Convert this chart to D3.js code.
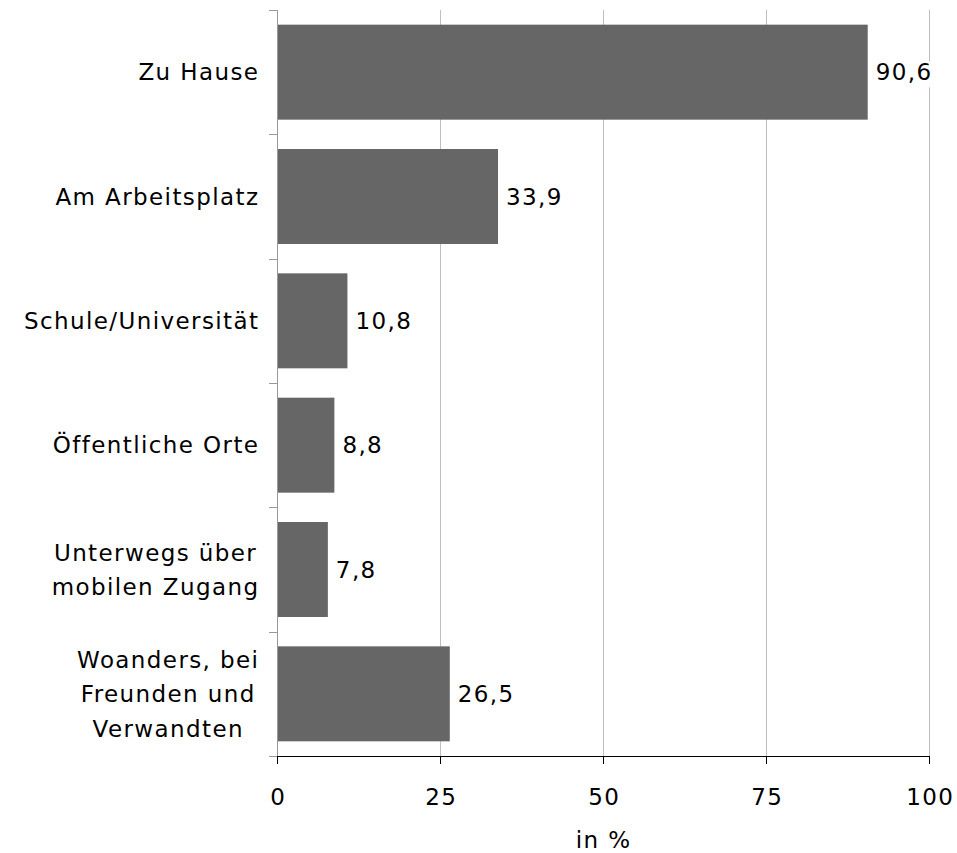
<!DOCTYPE html>
<html><head><meta charset="utf-8">
<script src="https://cdn.jsdelivr.net/npm/d3@7"></script>
<style>
html,body{margin:0;padding:0;background:#fff;}
text{font-family:"DejaVu Sans",Verdana,sans-serif;font-size:23px;fill:#000;letter-spacing:1.4px;}
</style></head>
<body>
<svg id="chart" width="957" height="853"></svg>
<script>
const categories = ["Zu Hause","Am Arbeitsplatz","Schule/Universität","Öffentliche Orte","Unterwegs über\nmobilen Zugang","Woanders, bei\nFreunden und\nVerwandten"];
const values = [90.6, 33.9, 10.8, 8.8, 7.8, 26.5];
const valueLabels = ["90,6","33,9","10,8","8,8","7,8","26,5"];
const xTicks = [0,25,50,75,100];
const xTitle = "in %";

const svg = d3.select("#chart");
const m = {left:277, right:929, top:10, bottom:756};
const LS = 1.4;
const x = d3.scaleLinear().domain([0,100]).range([m.left, m.right]);
const y = d3.scaleBand().domain(categories).range([m.top, m.bottom]).paddingInner(0.236).paddingOuter(0.118);
const step = (m.bottom - m.top) / categories.length;

// gridlines
svg.append("g").selectAll("line").data(xTicks.slice(1)).join("line")
  .attr("x1", d=>Math.round(x(d))+0.5).attr("x2", d=>Math.round(x(d))+0.5).attr("y1", m.top).attr("y2", m.bottom)
  .attr("stroke", "#bfbfbf").attr("stroke-width", 1);

// bars
svg.append("g").selectAll("rect").data(values).join("rect")
  .attr("x", x(0)).attr("y", (d,i)=>y(categories[i]))
  .attr("width", d=>x(d)-x(0)).attr("height", y.bandwidth())
  .attr("fill", "#666666");

// y axis line and ticks
const yAxisG = svg.append("g");
yAxisG.append("line").attr("x1", m.left+0.5).attr("x2", m.left+0.5).attr("y1", m.top).attr("y2", m.bottom)
  .attr("stroke", "#999");
yAxisG.selectAll("line.t").data(d3.range(categories.length+1)).join("line").attr("class","t")
  .attr("x1", m.left-8).attr("x2", m.left).attr("y1", i=>Math.round(m.top+i*step)+0.5).attr("y2", i=>Math.round(m.top+i*step)+0.5)
  .attr("stroke", "#999");

// x axis
const xAxis = d3.axisBottom(x).tickValues(xTicks).tickSize(8).tickPadding(25).tickFormat(d=>d);
const xg = svg.append("g").attr("transform", `translate(0,${m.bottom})`).call(xAxis);
xg.select(".domain").attr("stroke","#000");
xg.selectAll(".tick line").attr("stroke","#000");
xg.selectAll(".tick text").attr("font-family",null).attr("font-size",null).attr("fill","#000")
  .attr("dx", (LS/2)+"px");

svg.append("text").attr("x", (x(0)+x(100))/2 + LS/2).attr("y", 848).attr("text-anchor","middle").text(xTitle);

// category labels
const lineH = 34.5;
categories.forEach((c,i)=>{
  const lines = c.split("\n");
  const cy = y(c) + y.bandwidth()/2;
  const t = svg.append("text").attr("text-anchor","middle");
  lines.forEach((ln,j)=>{
    t.append("tspan").attr("x",0).attr("y", cy + (j - (lines.length-1)/2)*lineH).attr("dy","0.36em").text(ln);
  });
  let maxW = 0;
  t.selectAll("tspan").each(function(){ maxW = Math.max(maxW, this.getComputedTextLength()); });
  const cx = 258 + LS - maxW/2;
  t.selectAll("tspan").attr("x", cx);
});

// value labels
values.forEach((v,i)=>{
  const cy = y(categories[i]) + y.bandwidth()/2;
  const g = svg.append("g");
  const bg = g.append("rect").attr("fill","#fff");
  const t = g.append("text").attr("x", x(v)+8).attr("y", cy).attr("dy","0.36em").text(valueLabels[i]);
  const bb = t.node().getBBox();
  bg.attr("x", bb.x-3).attr("y", bb.y+2).attr("width", bb.width+6).attr("height", bb.height);
});
</script>
</body></html>
